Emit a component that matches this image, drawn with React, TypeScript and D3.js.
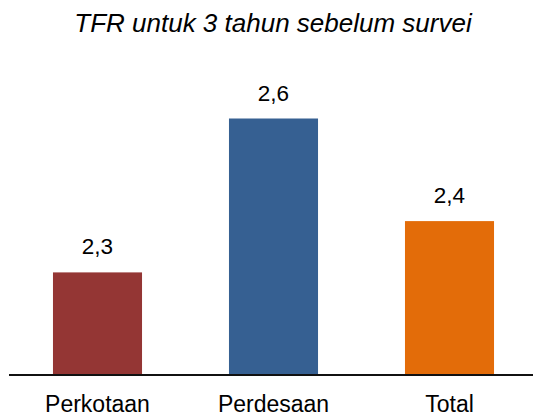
import React from "react";
import * as d3 from "d3";

const categories = ["Perkotaan", "Perdesaan", "Total"];
const values = [2.3, 2.6, 2.4];
const valueLabels = ["2,3", "2,6", "2,4"];
const colors = ["#943634", "#366092", "#E36C09"];
const title = "TFR untuk 3 tahun sebelum survei";

const W = 533;
const H = 417;
const FONT = "'Liberation Sans', Arial, sans-serif";

export default function App() {
  const x = d3.scaleBand<string>().domain(categories).range([9.5, 537.5]).paddingInner(0.494).paddingOuter(0.247);
  const y = d3.scaleLinear().domain([2.1, 2.7]).range([375, 67.2]);
  const base = y(2.1);
  return (
    <svg width={W} height={H} style={{ position: "absolute", left: 0, top: 0, background: "#fff" }}>
      <rect x={0} y={0} width={W} height={H} fill="#fff" />
      <text x={273} y={32.3} textAnchor="middle" fontFamily={FONT} fontStyle="italic" fontSize={26} fill="#000">
        {title}
      </text>
      {categories.map((c, i) => {
        const bx = x(c)!;
        const bw = x.bandwidth();
        const top = y(values[i]);
        return (
          <g key={c}>
            <rect x={bx} y={top} width={bw} height={base - top} fill={colors[i]} />
            <text x={bx + bw / 2} y={top - 18} textAnchor="middle" fontFamily={FONT} fontSize={22.5} fill="#000">
              {valueLabels[i]}
            </text>
            <text x={bx + bw / 2} y={base + 37} textAnchor="middle" fontFamily={FONT} fontSize={23} fill="#000">
              {c}
            </text>
          </g>
        );
      })}
      <line x1={9} x2={W} y1={base} y2={base} stroke="#111" strokeWidth={2} />
    </svg>
  );
}
